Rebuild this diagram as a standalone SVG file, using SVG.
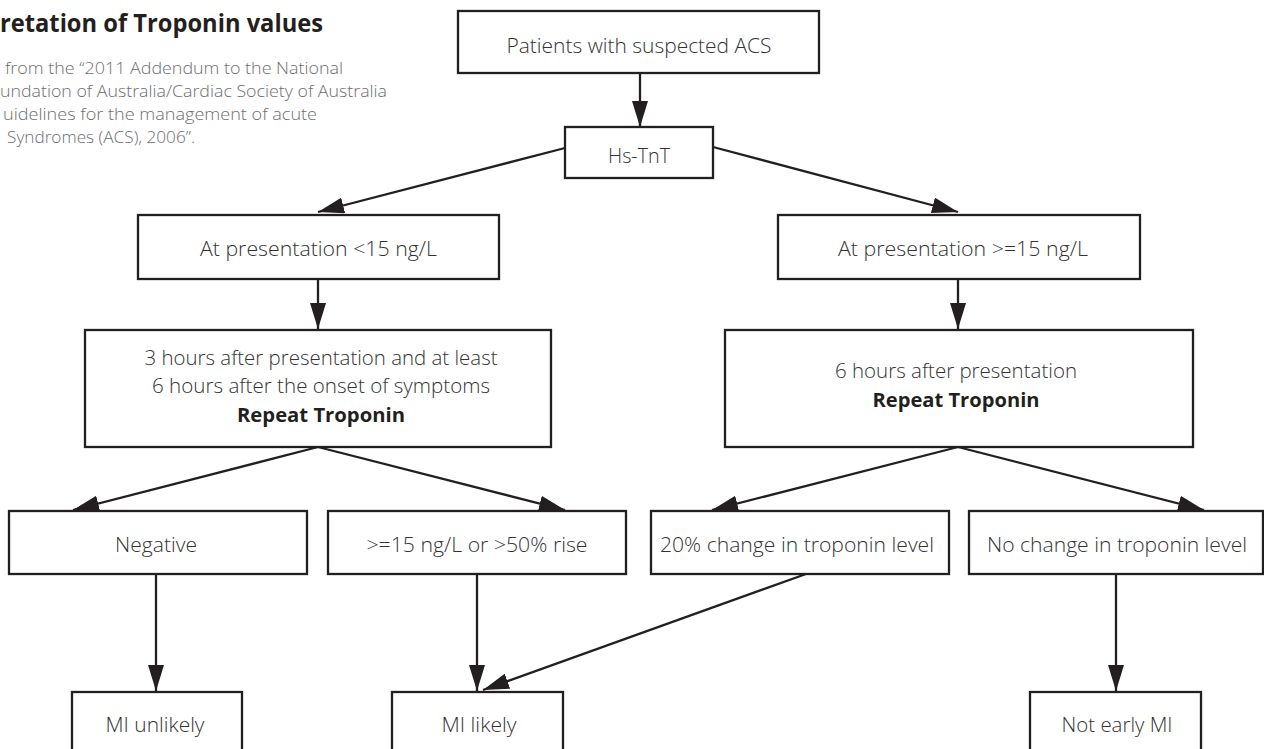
<svg xmlns="http://www.w3.org/2000/svg" width="1264" height="749" viewBox="0 0 1264 749">
<defs>
<style>
.box{fill:#ffffff;stroke:#231f20;stroke-width:2.3}
.t{font-family:"Open Sans","Liberation Sans",sans-serif;font-weight:300;font-size:19.5px;fill:#333333;text-anchor:middle}
.b{font-family:"Open Sans","Liberation Sans",sans-serif;font-weight:700;font-size:19.5px;fill:#231f20;text-anchor:middle}
.title{font-family:"Open Sans","Liberation Sans",sans-serif;font-weight:700;font-size:24.5px;fill:#231f20;text-anchor:end}
.sub{font-family:"Open Sans","Liberation Sans",sans-serif;font-weight:300;font-size:16px;fill:#6d6e71;text-anchor:end}
.c{fill:none;stroke:#231f20;stroke-width:2.3;marker-end:url(#ah)}
</style>
<marker id="ah" viewBox="0 0 26 16" markerWidth="26" markerHeight="16" refX="26" refY="8" orient="auto" markerUnits="userSpaceOnUse">
<path d="M0,0 L26,8 L0,16 z" fill="#231f20"/>
</marker>
</defs>
<rect width="1264" height="749" fill="#ffffff"/>
<g id="heading">
<text class="title" x="323" y="32" textLength="323" lengthAdjust="spacingAndGlyphs">retation of Troponin values</text>
<text class="sub" x="343" y="74" textLength="338" lengthAdjust="spacingAndGlyphs">from the “2011 Addendum to the National</text>
<text class="sub" x="387" y="97" textLength="387" lengthAdjust="spacingAndGlyphs">undation of Australia/Cardiac Society of Australia</text>
<text class="sub" x="317" y="120" textLength="314" lengthAdjust="spacingAndGlyphs">uidelines for the management of acute</text>
<text class="sub" x="195" y="143" textLength="188" lengthAdjust="spacingAndGlyphs">Syndromes (ACS), 2006”.</text>
</g>
<g id="connectors">
<line class="c" x1="640" y1="73" x2="640" y2="127"/>
<line class="c" x1="565" y1="148" x2="318" y2="212"/>
<line class="c" x1="713" y1="147" x2="958" y2="212"/>
<line class="c" x1="318" y1="279" x2="318" y2="329"/>
<line class="c" x1="958" y1="279" x2="958" y2="329"/>
<line class="c" x1="318" y1="447" x2="73" y2="510"/>
<line class="c" x1="318" y1="447" x2="565" y2="510"/>
<line class="c" x1="958" y1="447" x2="712" y2="510"/>
<line class="c" x1="958" y1="447" x2="1204" y2="510"/>
<line class="c" x1="156" y1="574" x2="156" y2="691"/>
<line class="c" x1="477" y1="574" x2="477" y2="691"/>
<line class="c" x1="806" y1="574" x2="483" y2="690"/>
<line class="c" x1="1116" y1="574" x2="1116" y2="691"/>
</g>
<g id="n-patients">
<rect class="box" x="458" y="11" width="361" height="62"/>
<text class="t" x="639" y="53" textLength="265" lengthAdjust="spacingAndGlyphs">Patients with suspected ACS</text>
</g>
<g id="n-hstnt">
<rect class="box" x="565" y="127" width="148" height="51"/>
<text class="t" x="639" y="163" textLength="62" lengthAdjust="spacingAndGlyphs">Hs-TnT</text>
</g>
<g id="n-lt15">
<rect class="box" x="138" y="215" width="361" height="64"/>
<text class="t" x="318.5" y="256" textLength="237" lengthAdjust="spacingAndGlyphs">At presentation &lt;15 ng/L</text>
</g>
<g id="n-ge15">
<rect class="box" x="778" y="215" width="362" height="64"/>
<text class="t" x="963" y="256" textLength="250" lengthAdjust="spacingAndGlyphs">At presentation &gt;=15 ng/L</text>
</g>
<g id="n-repeat3">
<rect class="box" x="85" y="330" width="466" height="117"/>
<text class="t" x="321" y="365" textLength="353" lengthAdjust="spacingAndGlyphs">3 hours after presentation and at least</text>
<text class="t" x="321" y="393" textLength="338" lengthAdjust="spacingAndGlyphs">6 hours after the onset of symptoms</text>
<text class="b" x="321" y="422" textLength="168" lengthAdjust="spacingAndGlyphs">Repeat Troponin</text>
</g>
<g id="n-repeat6">
<rect class="box" x="725" y="330" width="468" height="117"/>
<text class="t" x="956" y="378" textLength="242" lengthAdjust="spacingAndGlyphs">6 hours after presentation</text>
<text class="b" x="956" y="407" textLength="167" lengthAdjust="spacingAndGlyphs">Repeat Troponin</text>
</g>
<g id="n-negative">
<rect class="box" x="9" y="511" width="298" height="63"/>
<text class="t" x="156" y="552" textLength="82" lengthAdjust="spacingAndGlyphs">Negative</text>
</g>
<g id="n-rise">
<rect class="box" x="328" y="511" width="298" height="63"/>
<text class="t" x="477" y="552" textLength="221" lengthAdjust="spacingAndGlyphs">&gt;=15 ng/L or &gt;50% rise</text>
</g>
<g id="n-change20">
<rect class="box" x="651" y="511" width="298" height="63"/>
<text class="t" x="797" y="552" textLength="274" lengthAdjust="spacingAndGlyphs">20% change in troponin level</text>
</g>
<g id="n-nochange">
<rect class="box" x="969" y="511" width="294" height="63"/>
<text class="t" x="1117" y="552" textLength="260" lengthAdjust="spacingAndGlyphs">No change in troponin level</text>
</g>
<g id="n-miunlikely">
<rect class="box" x="72" y="692" width="170" height="70"/>
<text class="t" x="155" y="732" textLength="99" lengthAdjust="spacingAndGlyphs">MI unlikely</text>
</g>
<g id="n-milikely">
<rect class="box" x="392" y="692" width="171" height="70"/>
<text class="t" x="479" y="732" textLength="75" lengthAdjust="spacingAndGlyphs">MI likely</text>
</g>
<g id="n-notearly">
<rect class="box" x="1030" y="692" width="171" height="70"/>
<text class="t" x="1117" y="732" textLength="111" lengthAdjust="spacingAndGlyphs">Not early MI</text>
</g>
</svg>
